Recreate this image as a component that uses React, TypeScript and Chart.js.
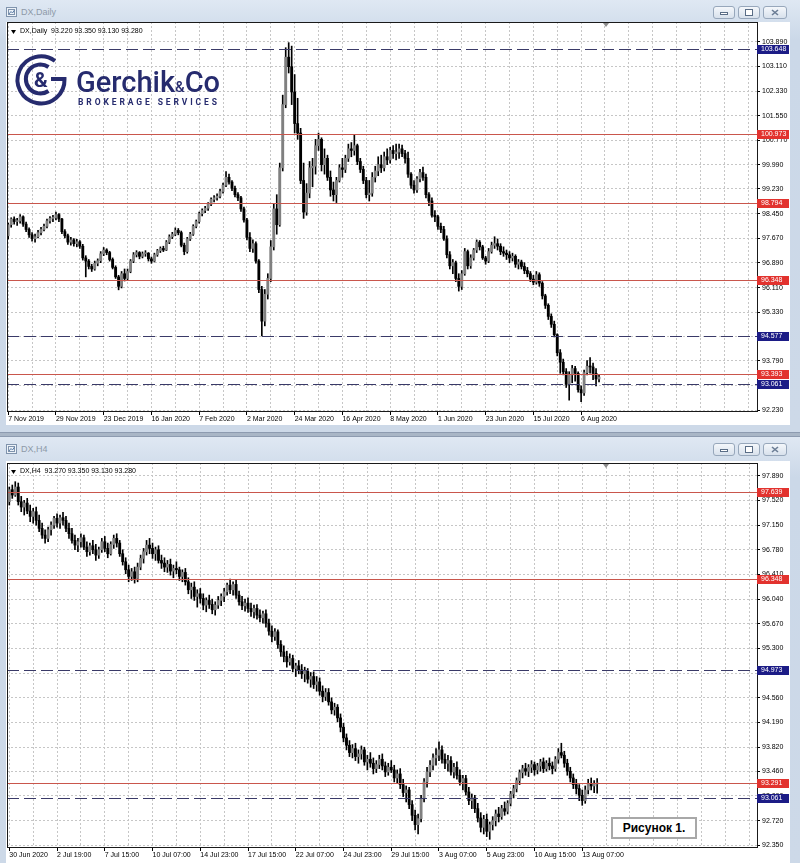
import React, { useEffect, useRef } from 'react';
import { Chart, registerables } from 'chart.js';

Chart.register(...registerables);

// ---------------- DX, Daily ----------------
const dailyTimeLabels = ['7 Nov 2019', '29 Nov 2019', '23 Dec 2019', '16 Jan 2020', '7 Feb 2020', '2 Mar 2020', '24 Mar 2020', '16 Apr 2020', '8 May 2020', '1 Jun 2020', '23 Jun 2020', '15 Jul 2020', '6 Aug 2020'];
const dailyPriceTicks = [103.89, 103.11, 102.33, 101.55, 100.77, 99.99, 99.23, 98.45, 97.67, 96.89, 96.11, 95.33, 94.57, 93.79, 93.01, 92.23];
const dailySolidLevels = [100.973, 98.794, 96.348, 93.393];
const dailyDashedLevels = [103.648, 94.577, 93.061];

const dailyOpen = [
  97.75, 98.10, 98.28, 98.20, 98.22, 98.35, 98.12, 97.95, 97.78, 97.66,
  97.72, 97.85, 97.95, 98.05, 98.22, 98.30, 98.32, 98.42, 98.28, 97.88,
  97.75, 97.55, 97.62, 97.50, 97.56, 97.42, 97.05, 96.95, 96.78, 96.70,
  96.88, 96.96, 97.18, 97.30, 97.22, 97.00, 96.75, 96.45, 96.15, 96.55,
  96.40, 96.62, 96.95, 97.15, 97.22, 97.10, 97.18, 97.20, 97.02, 96.95,
  97.15, 97.28, 97.35, 97.30, 97.55, 97.72, 97.80, 97.92, 97.85, 97.45,
  97.25, 97.65, 97.80, 98.05, 98.20, 98.45, 98.55, 98.62, 98.75, 98.90,
  98.95, 99.00, 99.15, 99.35, 99.60, 99.45, 99.25, 99.05, 98.95, 98.60,
  98.25, 97.70, 97.35, 97.50, 96.95, 96.05, 95.05, 95.90, 96.40, 97.40,
  98.60, 98.10, 99.90, 101.90, 103.40, 103.10, 102.30, 101.30, 101.00, 99.50,
  98.50, 99.10, 99.90, 99.95, 100.60, 100.80, 100.00, 100.20, 99.60, 99.20,
  99.05, 99.50, 99.90, 99.85, 100.20, 100.50, 100.45, 100.60, 100.10, 99.85,
  99.50, 99.05, 99.10, 99.60, 99.80, 100.00, 99.90, 100.25, 100.15, 100.45,
  100.35, 100.40, 100.50, 100.35, 100.20, 99.70, 99.35, 99.20, 99.55, 99.75,
  99.60, 99.05, 98.85, 98.40, 98.35, 98.05, 97.95, 97.65, 97.15, 96.80,
  96.90, 96.40, 96.15, 96.55, 97.25, 96.80, 97.05, 97.30, 97.55, 97.40,
  97.05, 96.95, 97.25, 97.45, 97.50, 97.42, 97.25, 97.20, 97.15, 97.05,
  97.10, 96.85, 96.92, 96.78, 96.65, 96.55, 96.38, 96.28, 96.52, 96.25,
  95.85, 95.55, 95.20, 94.95, 94.62, 94.05, 93.75, 93.45, 93.05, 93.35,
  93.55, 93.40, 92.88, 92.78, 93.42, 93.62, 93.60, 93.40, 93.22,
];
const dailyHigh = [
  98.15, 98.32, 98.35, 98.30, 98.42, 98.38, 98.18, 98.00, 97.85, 97.80,
  97.92, 98.02, 98.12, 98.28, 98.36, 98.40, 98.50, 98.45, 98.30, 97.95,
  97.80, 97.70, 97.66, 97.64, 97.60, 97.48, 97.12, 97.00, 96.85, 96.95,
  97.02, 97.25, 97.38, 97.34, 97.26, 97.05, 96.80, 96.50, 96.62, 96.70,
  96.70, 97.00, 97.22, 97.28, 97.25, 97.24, 97.28, 97.22, 97.08, 97.20,
  97.32, 97.40, 97.42, 97.60, 97.78, 97.86, 98.00, 97.98, 97.90, 97.52,
  97.70, 97.86, 98.10, 98.25, 98.50, 98.60, 98.68, 98.80, 98.95, 99.02,
  99.08, 99.22, 99.42, 99.78, 99.70, 99.50, 99.32, 99.12, 99.00, 98.66,
  98.30, 97.85, 97.62, 97.56, 97.00, 96.15, 96.05, 96.55, 97.60, 98.75,
  99.05, 100.05, 102.20, 103.70, 103.86, 103.75, 102.85, 102.10, 101.15, 100.05,
  99.40, 100.10, 100.20, 100.80, 101.00, 100.85, 100.50, 100.30, 99.80, 99.45,
  99.60, 100.00, 100.20, 100.30, 100.65, 100.70, 100.95, 100.65, 100.20, 99.95,
  99.60, 99.50, 99.75, 99.95, 100.25, 100.30, 100.40, 100.50, 100.55, 100.60,
  100.65, 100.65, 100.62, 100.45, 100.40, 99.75, 99.50, 99.62, 99.85, 99.92,
  99.70, 99.12, 98.95, 98.55, 98.40, 98.15, 98.05, 97.75, 97.25, 97.00,
  96.95, 96.55, 96.65, 97.35, 97.30, 97.15, 97.35, 97.62, 97.60, 97.45,
  97.10, 97.35, 97.55, 97.72, 97.65, 97.50, 97.40, 97.30, 97.25, 97.20,
  97.15, 97.00, 96.98, 96.90, 96.75, 96.62, 96.50, 96.62, 96.58, 96.30,
  95.90, 95.60, 95.28, 95.05, 94.65, 94.15, 93.85, 93.55, 93.45, 93.65,
  93.62, 93.45, 93.00, 93.50, 93.80, 93.90, 93.72, 93.55, 93.35,
];
const dailyLow = [
  97.65, 98.02, 98.12, 98.08, 98.15, 98.05, 97.88, 97.70, 97.58, 97.55,
  97.68, 97.78, 97.90, 98.00, 98.15, 98.20, 98.25, 98.20, 97.82, 97.68,
  97.48, 97.45, 97.42, 97.40, 97.35, 96.98, 96.45, 96.70, 96.62, 96.66,
  96.80, 96.90, 97.12, 97.15, 96.95, 96.70, 96.40, 96.04, 96.10, 96.32,
  96.35, 96.58, 96.90, 97.08, 97.02, 97.05, 97.10, 96.95, 96.88, 96.92,
  97.10, 97.22, 97.25, 97.28, 97.50, 97.66, 97.75, 97.78, 97.40, 97.15,
  97.20, 97.60, 97.76, 98.00, 98.15, 98.38, 98.48, 98.55, 98.70, 98.82,
  98.88, 98.95, 99.10, 99.30, 99.38, 99.18, 98.98, 98.86, 98.52, 98.18,
  97.62, 97.25, 97.22, 96.88, 95.95, 94.58, 94.90, 95.75, 96.30, 97.30,
  97.80, 98.05, 99.80, 101.80, 102.90, 101.90, 101.00, 100.80, 99.40, 98.30,
  98.40, 98.95, 99.30, 99.70, 100.45, 99.80, 99.70, 99.50, 99.00, 98.85,
  98.80, 99.45, 99.60, 99.75, 100.10, 100.25, 100.30, 100.00, 99.75, 99.40,
  98.95, 98.85, 99.00, 99.45, 99.65, 99.75, 99.80, 100.00, 100.05, 100.20,
  100.15, 100.20, 100.25, 100.05, 99.60, 99.25, 99.10, 99.12, 99.45, 99.50,
  98.95, 98.70, 98.34, 98.20, 97.95, 97.85, 97.60, 97.05, 96.70, 96.55,
  96.30, 96.00, 96.05, 96.50, 96.70, 96.72, 96.98, 97.22, 97.30, 97.00,
  96.85, 96.90, 97.20, 97.35, 97.30, 97.15, 97.10, 97.00, 96.90, 96.95,
  96.75, 96.70, 96.70, 96.55, 96.45, 96.30, 96.20, 96.22, 96.15, 95.75,
  95.45, 95.10, 94.85, 94.55, 93.95, 93.40, 93.35, 92.95, 92.55, 93.10,
  93.15, 92.80, 92.50, 92.70, 93.35, 93.40, 93.20, 93.00, 93.13,
];
const dailyClose = [
  98.10, 98.28, 98.20, 98.22, 98.35, 98.12, 97.95, 97.78, 97.66, 97.72,
  97.85, 97.95, 98.05, 98.22, 98.30, 98.32, 98.42, 98.28, 97.88, 97.75,
  97.55, 97.62, 97.50, 97.56, 97.42, 97.05, 96.95, 96.78, 96.70, 96.88,
  96.96, 97.18, 97.30, 97.22, 97.00, 96.75, 96.45, 96.15, 96.55, 96.40,
  96.62, 96.95, 97.15, 97.22, 97.10, 97.18, 97.20, 97.02, 96.95, 97.15,
  97.28, 97.35, 97.30, 97.55, 97.72, 97.80, 97.92, 97.85, 97.45, 97.25,
  97.65, 97.80, 98.05, 98.20, 98.45, 98.55, 98.62, 98.75, 98.90, 98.95,
  99.00, 99.15, 99.35, 99.60, 99.45, 99.25, 99.05, 98.95, 98.60, 98.25,
  97.70, 97.35, 97.50, 96.95, 96.05, 95.05, 95.90, 96.40, 97.40, 98.60,
  98.10, 99.90, 101.90, 103.40, 103.10, 102.30, 101.30, 101.00, 99.50, 98.50,
  99.10, 99.90, 99.95, 100.60, 100.80, 100.00, 100.20, 99.60, 99.20, 99.05,
  99.50, 99.90, 99.85, 100.20, 100.50, 100.45, 100.60, 100.10, 99.85, 99.50,
  99.05, 99.10, 99.60, 99.80, 100.00, 99.90, 100.25, 100.15, 100.45, 100.35,
  100.40, 100.50, 100.35, 100.20, 99.70, 99.35, 99.20, 99.55, 99.75, 99.60,
  99.05, 98.85, 98.40, 98.35, 98.05, 97.95, 97.65, 97.15, 96.80, 96.90,
  96.40, 96.15, 96.55, 97.25, 96.80, 97.05, 97.30, 97.55, 97.40, 97.05,
  96.95, 97.25, 97.45, 97.50, 97.42, 97.25, 97.20, 97.15, 97.05, 97.10,
  96.85, 96.92, 96.78, 96.65, 96.55, 96.38, 96.28, 96.52, 96.25, 95.85,
  95.55, 95.20, 94.95, 94.62, 94.05, 93.75, 93.45, 93.05, 93.35, 93.55,
  93.40, 92.88, 92.78, 93.42, 93.62, 93.60, 93.40, 93.22, 93.28,
];

// ---------------- DX, H4 ----------------
const h4TimeLabels = ['30 Jun 2020', '2 Jul 19:00', '7 Jul 15:00', '10 Jul 07:00', '14 Jul 23:00', '17 Jul 15:00', '22 Jul 07:00', '24 Jul 23:00', '29 Jul 15:00', '3 Aug 07:00', '5 Aug 23:00', '10 Aug 15:00', '13 Aug 07:00'];
const h4PriceTicks = [97.89, 97.52, 97.15, 96.78, 96.41, 96.04, 95.67, 95.3, 94.93, 94.56, 94.19, 93.82, 93.46, 93.09, 92.72, 92.35];
const h4SolidLevels = [97.639, 96.348, 93.291];
const h4DashedLevels = [94.973, 93.061];

const h4Open = [
  97.50, 97.68, 97.60, 97.72, 97.50, 97.42, 97.48, 97.36, 97.28, 97.35,
  97.22, 97.10, 97.00, 96.95, 97.08, 97.15, 97.25, 97.18, 97.26, 97.22,
  97.10, 97.02, 96.92, 96.85, 96.90, 96.96, 96.82, 96.75, 96.84, 96.78,
  96.70, 96.78, 96.90, 96.80, 96.72, 96.86, 96.95, 96.88, 96.72, 96.60,
  96.48, 96.38, 96.45, 96.35, 96.52, 96.65, 96.75, 96.85, 96.80, 96.72,
  96.78, 96.62, 96.58, 96.52, 96.56, 96.46, 96.50, 96.48, 96.38, 96.44,
  96.30, 96.18, 96.22, 96.08, 96.12, 96.05, 95.95, 96.02, 95.96, 95.88,
  95.95, 96.02, 96.08, 96.15, 96.25, 96.18, 96.26, 96.10, 96.00, 95.94,
  95.98, 95.90, 95.85, 95.90, 95.80, 95.76, 95.82, 95.68, 95.56, 95.48,
  95.55, 95.36, 95.25, 95.18, 95.10, 95.15, 95.00, 95.04, 94.98, 94.92,
  94.96, 94.84, 94.88, 94.76, 94.80, 94.66, 94.58, 94.64, 94.50, 94.38,
  94.42, 94.26, 94.12, 93.96, 93.85, 93.74, 93.80, 93.68, 93.72, 93.78,
  93.60, 93.64, 93.58, 93.50, 93.56, 93.64, 93.54, 93.45, 93.52, 93.48,
  93.36, 93.42, 93.26, 93.14, 93.18, 92.96, 92.80, 92.66, 92.75, 93.05,
  93.30, 93.45, 93.55, 93.66, 93.70, 93.78, 93.64, 93.58, 93.62, 93.45,
  93.52, 93.40, 93.30, 93.35, 93.15, 93.02, 93.06, 92.90, 92.76, 92.62,
  92.74, 92.56, 92.66, 92.72, 92.82, 92.78, 92.90, 92.86, 92.98, 93.12,
  93.20, 93.32, 93.44, 93.50, 93.46, 93.52, 93.56, 93.48, 93.54, 93.60,
  93.50, 93.58, 93.54, 93.50, 93.64, 93.74, 93.70, 93.58, 93.46, 93.36,
  93.26, 93.20, 93.10, 93.02, 93.18, 93.28, 93.24, 93.27,
];
const h4High = [
  97.72, 97.75, 97.80, 97.78, 97.58, 97.52, 97.55, 97.45, 97.40, 97.42,
  97.30, 97.18, 97.08, 97.12, 97.20, 97.28, 97.32, 97.30, 97.34, 97.28,
  97.18, 97.10, 97.00, 96.95, 97.02, 97.00, 96.90, 96.88, 96.92, 96.86,
  96.82, 96.95, 96.98, 96.88, 96.90, 97.00, 97.02, 96.92, 96.78, 96.66,
  96.55, 96.50, 96.52, 96.58, 96.70, 96.80, 96.92, 96.95, 96.88, 96.82,
  96.84, 96.70, 96.66, 96.62, 96.64, 96.55, 96.60, 96.52, 96.48, 96.50,
  96.36, 96.28, 96.30, 96.18, 96.20, 96.12, 96.06, 96.10, 96.04, 96.00,
  96.08, 96.12, 96.20, 96.28, 96.34, 96.30, 96.32, 96.16, 96.08, 96.04,
  96.06, 95.98, 95.95, 95.96, 95.88, 95.86, 95.88, 95.74, 95.64, 95.60,
  95.58, 95.42, 95.34, 95.26, 95.22, 95.20, 95.08, 95.12, 95.06, 95.02,
  95.00, 94.94, 94.95, 94.88, 94.86, 94.74, 94.70, 94.70, 94.56, 94.48,
  94.46, 94.32, 94.18, 94.02, 93.92, 93.86, 93.88, 93.78, 93.84, 93.82,
  93.70, 93.74, 93.66, 93.62, 93.70, 93.72, 93.60, 93.58, 93.62, 93.55,
  93.48, 93.50, 93.34, 93.24, 93.22, 93.02, 92.88, 92.82, 93.10, 93.35,
  93.52, 93.62, 93.72, 93.80, 93.90, 93.84, 93.72, 93.70, 93.68, 93.58,
  93.60, 93.48, 93.40, 93.40, 93.22, 93.12, 93.10, 92.98, 92.84, 92.80,
  92.82, 92.70, 92.78, 92.88, 92.92, 92.95, 93.00, 93.02, 93.16, 93.25,
  93.36, 93.48, 93.55, 93.58, 93.56, 93.62, 93.60, 93.58, 93.64, 93.66,
  93.62, 93.66, 93.60, 93.68, 93.80, 93.88, 93.76, 93.64, 93.52, 93.42,
  93.34, 93.26, 93.18, 93.24, 93.34, 93.36, 93.32, 93.35,
];
const h4Low = [
  97.45, 97.55, 97.58, 97.45, 97.35, 97.30, 97.32, 97.20, 97.18, 97.15,
  97.05, 96.95, 96.88, 96.90, 97.00, 97.10, 97.12, 97.10, 97.15, 97.05,
  96.95, 96.88, 96.78, 96.75, 96.82, 96.78, 96.68, 96.70, 96.72, 96.62,
  96.65, 96.74, 96.75, 96.66, 96.70, 96.80, 96.82, 96.68, 96.55, 96.42,
  96.30, 96.32, 96.28, 96.30, 96.48, 96.58, 96.70, 96.72, 96.65, 96.62,
  96.58, 96.50, 96.45, 96.44, 96.40, 96.36, 96.42, 96.32, 96.30, 96.25,
  96.12, 96.05, 96.02, 95.92, 95.98, 95.88, 95.85, 95.90, 95.82, 95.80,
  95.90, 95.94, 96.00, 96.10, 96.12, 96.10, 96.05, 95.95, 95.88, 95.86,
  95.84, 95.78, 95.76, 95.74, 95.70, 95.68, 95.62, 95.50, 95.40, 95.42,
  95.30, 95.18, 95.10, 95.02, 95.05, 94.95, 94.88, 94.92, 94.85, 94.80,
  94.78, 94.72, 94.70, 94.66, 94.60, 94.50, 94.52, 94.45, 94.32, 94.30,
  94.20, 94.05, 93.90, 93.78, 93.68, 93.66, 93.62, 93.58, 93.64, 93.55,
  93.48, 93.52, 93.42, 93.44, 93.50, 93.48, 93.38, 93.40, 93.44, 93.30,
  93.28, 93.20, 93.08, 93.00, 92.90, 92.72, 92.58, 92.52, 92.70, 93.00,
  93.22, 93.38, 93.48, 93.55, 93.62, 93.58, 93.50, 93.46, 93.40, 93.36,
  93.34, 93.25, 93.18, 93.10, 92.96, 92.90, 92.84, 92.70, 92.55, 92.52,
  92.48, 92.44, 92.58, 92.64, 92.70, 92.74, 92.80, 92.82, 92.94, 93.06,
  93.15, 93.26, 93.36, 93.40, 93.38, 93.44, 93.40, 93.42, 93.46, 93.44,
  93.46, 93.48, 93.42, 93.46, 93.58, 93.66, 93.52, 93.40, 93.30, 93.20,
  93.12, 93.02, 92.95, 92.98, 93.12, 93.18, 93.14, 93.13,
];
const h4Close = [
  97.68, 97.60, 97.72, 97.50, 97.42, 97.48, 97.36, 97.28, 97.35, 97.22,
  97.10, 97.00, 96.95, 97.08, 97.15, 97.25, 97.18, 97.26, 97.22, 97.10,
  97.02, 96.92, 96.85, 96.90, 96.96, 96.82, 96.75, 96.84, 96.78, 96.70,
  96.78, 96.90, 96.80, 96.72, 96.86, 96.95, 96.88, 96.72, 96.60, 96.48,
  96.38, 96.45, 96.35, 96.52, 96.65, 96.75, 96.85, 96.80, 96.72, 96.78,
  96.62, 96.58, 96.52, 96.56, 96.46, 96.50, 96.48, 96.38, 96.44, 96.30,
  96.18, 96.22, 96.08, 96.12, 96.05, 95.95, 96.02, 95.96, 95.88, 95.95,
  96.02, 96.08, 96.15, 96.25, 96.18, 96.26, 96.10, 96.00, 95.94, 95.98,
  95.90, 95.85, 95.90, 95.80, 95.76, 95.82, 95.68, 95.56, 95.48, 95.55,
  95.36, 95.25, 95.18, 95.10, 95.15, 95.00, 95.04, 94.98, 94.92, 94.96,
  94.84, 94.88, 94.76, 94.80, 94.66, 94.58, 94.64, 94.50, 94.38, 94.42,
  94.26, 94.12, 93.96, 93.85, 93.74, 93.80, 93.68, 93.72, 93.78, 93.60,
  93.64, 93.58, 93.50, 93.56, 93.64, 93.54, 93.45, 93.52, 93.48, 93.36,
  93.42, 93.26, 93.14, 93.18, 92.96, 92.80, 92.66, 92.75, 93.05, 93.30,
  93.45, 93.55, 93.66, 93.70, 93.78, 93.64, 93.58, 93.62, 93.45, 93.52,
  93.40, 93.30, 93.35, 93.15, 93.02, 93.06, 92.90, 92.76, 92.62, 92.74,
  92.56, 92.66, 92.72, 92.82, 92.78, 92.90, 92.86, 92.98, 93.12, 93.20,
  93.32, 93.44, 93.50, 93.46, 93.52, 93.56, 93.48, 93.54, 93.60, 93.50,
  93.58, 93.54, 93.50, 93.64, 93.74, 93.70, 93.58, 93.46, 93.36, 93.26,
  93.20, 93.10, 93.02, 93.18, 93.28, 93.24, 93.27, 93.28,
];

// ---------------- look ----------------
const UI_FONT = '"Liberation Sans", Arial, sans-serif';
const GRID_COLOR = '#c6c6c6';
const SOLID_LEVEL = '#c9564c';
const DASHED_LEVEL = '#3a3a68';
const SOLID_TAG = '#e2322e';
const DASHED_TAG = '#1c1c86';
const BULL_BODY = '#808080';
const BEAR_BODY = '#000000';
const NAVY = '#262b6e';

type PanelProps = {
  open: number[];
  high: number[];
  low: number[];
  close: number[];
  timeLabels: string[];
  priceTicks: number[];
  solidLevels: number[];
  dashedLevels: number[];
  left: number;
  top: number;
  width: number;
  height: number;
  padTop: number;
  xMin: number;
  xMax: number;
  yMin: number;
  yMax: number;
};

function CandlePanel(p: PanelProps) {
  const ref = useRef<HTMLCanvasElement>(null);

  useEffect(() => {
    const canvas = ref.current;
    if (!canvas) return;
    const wicks = p.high.map((h, i) => ({ x: i, y: [p.low[i], h] }));
    const bodies = p.open.map((o, i) => ({ x: i, y: [o, p.close[i]] }));
    const bodyColors = p.open.map((o, i) => (p.close[i] >= o ? BULL_BODY : BEAR_BODY));
    const gridSteps: number[] = [];
    for (let v = 0; v <= p.xMax; v += 8) gridSteps.push(v);
    const labelAt = (v: number) => (v % 16 === 0 && p.timeLabels[v / 16] ? p.timeLabels[v / 16] : '');

    const levels = {
      id: 'levels',
      afterDatasetsDraw(chart: any) {
        const { ctx, chartArea: a, scales } = chart;
        const y = scales.y;
        const hline = (v: number, color: string, dash: number[]) => {
          const py = Math.round(y.getPixelForValue(v)) + 0.5;
          ctx.save();
          ctx.beginPath();
          ctx.rect(a.left, a.top, a.right - a.left, a.bottom - a.top);
          ctx.clip();
          ctx.lineWidth = 1;
          ctx.strokeStyle = color;
          ctx.setLineDash(dash);
          ctx.beginPath();
          ctx.moveTo(a.left, py);
          ctx.lineTo(a.right, py);
          ctx.stroke();
          ctx.restore();
        };
        p.solidLevels.forEach((v) => hline(v, SOLID_LEVEL, []));
        p.dashedLevels.forEach((v) => hline(v, DASHED_LEVEL, [12, 5]));
        // chart frame
        ctx.save();
        ctx.strokeStyle = '#1a1a1a';
        ctx.lineWidth = 1;
        ctx.setLineDash([]);
        ctx.strokeRect(a.left + 0.5, a.top + 0.5, a.right - a.left, a.bottom - a.top);
        ctx.restore();
      },
      afterDraw(chart: any) {
        const { ctx, chartArea: a, scales } = chart;
        const y = scales.y;
        const tag = (v: number, fill: string) => {
          const py = Math.round(y.getPixelForValue(v));
          ctx.fillStyle = fill;
          ctx.fillRect(a.right, py - 4, 32, 9);
          ctx.fillStyle = '#ffffff';
          ctx.font = `7px ${UI_FONT}`;
          ctx.textBaseline = 'middle';
          ctx.textAlign = 'left';
          ctx.fillText(v.toFixed(3), a.right + 4, py + 0.5);
        };
        ctx.save();
        p.solidLevels.forEach((v) => tag(v, SOLID_TAG));
        p.dashedLevels.forEach((v) => tag(v, DASHED_TAG));
        ctx.restore();
      },
    };

    const chart = new Chart(canvas, {
      type: 'bar',
      data: {
        datasets: [
          { data: wicks as any, backgroundColor: '#000000', barThickness: 1, grouped: false, order: 2 } as any,
          { data: bodies as any, backgroundColor: bodyColors, barThickness: 2.2, grouped: false, minBarLength: 1, order: 1 } as any,
        ],
      },
      options: {
        responsive: false,
        animation: false,
        devicePixelRatio: 1,
        events: [],
        layout: { padding: { left: 1, top: p.padTop, right: 0, bottom: 0 } },
        plugins: { legend: { display: false }, tooltip: { enabled: false }, title: { display: false } },
        scales: {
          x: {
            type: 'linear',
            min: p.xMin,
            max: p.xMax,
            offset: false,
            afterBuildTicks: (axis: any) => {
              axis.ticks = gridSteps.map((v) => ({ value: v }));
            },
            afterFit: (axis: any) => {
              axis.height = 14;
              axis.paddingLeft = 0;
              axis.paddingRight = 0;
            },
            ticks: {
              autoSkip: false,
              maxRotation: 0,
              minRotation: 0,
              align: 'start',
              padding: 0,
              color: '#000000',
              font: { family: UI_FONT, size: 7 },
              callback: (v: any) => labelAt(Number(v)),
            },
            grid: {
              offset: false,
              color: GRID_COLOR,
              lineWidth: 1,
              drawTicks: true,
              tickLength: 4,
              tickColor: (c: any) => (c.tick && labelAt(c.tick.value) ? '#000000' : 'rgba(0,0,0,0)'),
            },
            border: { display: false, dash: [2, 2] },
          } as any,
          y: {
            type: 'linear',
            position: 'right',
            min: p.yMin,
            max: p.yMax,
            beginAtZero: false,
            afterBuildTicks: (axis: any) => {
              axis.ticks = p.priceTicks.map((v) => ({ value: v }));
            },
            afterFit: (axis: any) => {
              axis.width = 33;
              axis.paddingTop = 0;
              axis.paddingBottom = 0;
            },
            ticks: {
              padding: 2,
              color: '#000000',
              font: { family: UI_FONT, size: 7 },
              callback: (v: any) => Number(v).toFixed(3),
            },
            grid: { color: GRID_COLOR, lineWidth: 1, tickLength: 3, tickColor: '#000000' },
            border: { display: false, dash: [2, 2] },
          } as any,
        },
      },
      plugins: [levels],
    });
    return () => chart.destroy();
  }, []);

  return (
    <canvas
      ref={ref}
      width={p.width}
      height={p.height}
      style={{ position: 'absolute', left: p.left, top: p.top, width: p.width, height: p.height, display: 'block' }}
    />
  );
}

function TitleBar({ top, title }: { top: number; title: string }) {
  const btn = (left: number, w: number, glyph: React.ReactNode) => (
    <div
      style={{
        position: 'absolute',
        left,
        top: top + 6,
        width: w,
        height: 13,
        boxSizing: 'border-box',
        border: '1px solid #97a7bb',
        borderRadius: 3,
        background: 'linear-gradient(#f4f7fb, #d8e1ec)',
      }}
    >
      <svg width={w - 2} height={11} style={{ position: 'absolute', left: 0, top: 0 }}>
        {glyph}
      </svg>
    </div>
  );
  return (
    <>
      <svg width={12} height={12} style={{ position: 'absolute', left: 6, top: top + 6 }}>
        <rect x={0.5} y={1.5} width={10} height={9} fill="#eef3f9" stroke="#8094ad" />
        <rect x={2.5} y={3.5} width={6} height={5} fill="none" stroke="#8094ad" />
        <path d="M3 8 L5 5.5 L6.5 7 L8.5 4" stroke="#5d7fa8" fill="none" />
      </svg>
      <div
        style={{
          position: 'absolute',
          left: 21,
          top: top + 6,
          fontFamily: UI_FONT,
          fontSize: 9,
          lineHeight: '12px',
          color: '#8d99a8',
        }}
      >
        {title}
      </div>
      {btn(713, 22, <rect x={6.5} y={5.5} width={7} height={2} fill="#fff" stroke="#5a6d86" />)}
      {btn(738, 22, <rect x={6.5} y={2.5} width={7} height={6} fill="#fff" stroke="#5a6d86" />)}
      {btn(
        763,
        24,
        <path d="M8 3 L14 8 M14 3 L8 8" stroke="#6b7d95" strokeWidth={1.6} fill="none" />
      )}
    </>
  );
}

function InfoLine({ top, text }: { top: number; text: string }) {
  return (
    <>
      <svg width={6} height={5} style={{ position: 'absolute', left: 11, top: top + 2 }}>
        <path d="M0 0 L5 0 L2.5 4 Z" fill="#000" />
      </svg>
      <div
        style={{
          position: 'absolute',
          left: 20,
          top: top - 2,
          fontFamily: UI_FONT,
          fontSize: 7,
          lineHeight: '10px',
          color: '#000',
          whiteSpace: 'pre',
        }}
      >
        {text}
      </div>
    </>
  );
}

function ShiftMark({ left, top }: { left: number; top: number }) {
  return (
    <svg width={7} height={5} style={{ position: 'absolute', left, top }}>
      <path d="M0 0 L6 0 L3 4 Z" fill="#8c8c8c" />
    </svg>
  );
}

function Logo() {
  return (
    <svg width={240} height={120} style={{ position: 'absolute', left: 0, top: 0 }}>
      <g fill="none" stroke={NAVY} strokeWidth={4}>
        <path d="M 55 61 A 23.5 23.5 0 1 0 64.5 79 L 51 79" />
        <path d="M 48.5 67 A 14.5 14.5 0 1 0 48.5 91" />
      </g>
      <text x={41} y={87} fontFamily="Roboto, sans-serif" fontWeight={700} fontSize={21} fill={NAVY} textAnchor="middle">
        &amp;
      </text>
      <text x={76} y={92} fontFamily="Roboto, sans-serif" fontWeight={500} fontSize={29} fill={NAVY}>
        Gerchik
        <tspan fontSize={15}>&amp;</tspan>
        <tspan>Co</tspan>
      </text>
      <text x={78} y={105} fontFamily="Roboto, sans-serif" fontWeight={700} fontSize={8.5} letterSpacing={2.9} fill={NAVY}>
        BROKERAGE SERVICES
      </text>
    </svg>
  );
}

export default function App() {
  return (
    <div
      style={{
        position: 'absolute',
        left: 0,
        top: 0,
        width: 800,
        height: 863,
        overflow: 'hidden',
        background: '#a9b6c6',
      }}
    >
      {/* Daily window */}
      <div
        style={{
          position: 'absolute',
          left: 0,
          top: 0,
          width: 800,
          height: 433,
          background: 'linear-gradient(#dfe8f3, #cbd8e8 40px, #cdd9e8)',
          borderBottom: '1px solid #8d9bb0',
          boxSizing: 'border-box',
        }}
      />
      <TitleBar top={0} title="DX,Daily" />
      <div style={{ position: 'absolute', left: 6, top: 22, width: 784, height: 403, background: '#fff' }} />
      <CandlePanel
        open={dailyOpen}
        high={dailyHigh}
        low={dailyLow}
        close={dailyClose}
        timeLabels={dailyTimeLabels}
        priceTicks={dailyPriceTicks}
        solidLevels={dailySolidLevels}
        dashedLevels={dailyDashedLevels}
        left={6}
        top={22}
        width={784}
        height={403}
        padTop={0}
        xMin={-0.4}
        xMax={250.94}
        yMin={92.207}
        yMax={104.513}
      />
      <InfoLine top={28} text="DX,Daily  93.220 93.350 93.130 93.280" />
      <ShiftMark left={603} top={23} />
      <Logo />

      {/* H4 window */}
      <div
        style={{
          position: 'absolute',
          left: 0,
          top: 436,
          width: 800,
          height: 440,
          background: 'linear-gradient(#dfe8f3, #cbd8e8 40px, #cdd9e8)',
          borderTop: '1px solid #8d9bb0',
          boxSizing: 'border-box',
        }}
      />
      <TitleBar top={437} title="DX,H4" />
      <div style={{ position: 'absolute', left: 6, top: 461, width: 784, height: 402, background: '#fff' }} />
      <CandlePanel
        open={h4Open}
        high={h4High}
        low={h4Low}
        close={h4Close}
        timeLabels={h4TimeLabels}
        priceTicks={h4PriceTicks}
        solidLevels={h4SolidLevels}
        dashedLevels={h4DashedLevels}
        left={6}
        top={461}
        width={784}
        height={400}
        padTop={2}
        xMin={-0.77}
        xMax={250.57}
        yMin={92.325}
        yMax={98.08}
      />
      <InfoLine top={468} text="DX,H4  93.270 93.350 93.130 93.280" />
      <ShiftMark left={603} top={464} />
      <div
        style={{
          position: 'absolute',
          left: 611,
          top: 817,
          width: 86,
          height: 22,
          boxSizing: 'border-box',
          border: '2px solid #a8a8a8',
          background: '#fff',
          fontFamily: UI_FONT,
          fontWeight: 700,
          fontSize: 12,
          lineHeight: '18px',
          textAlign: 'center',
          color: '#000',
        }}
      >
        Рисунок 1.
      </div>
    </div>
  );
}
